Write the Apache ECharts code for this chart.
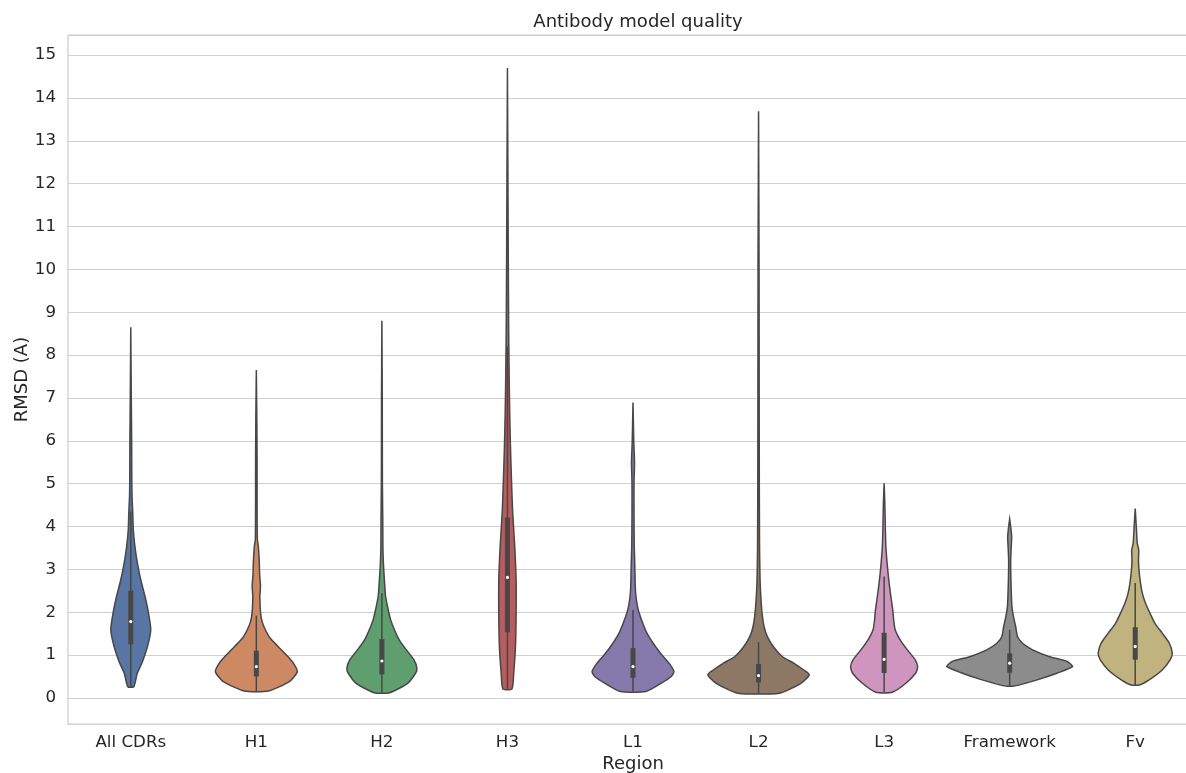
<!DOCTYPE html>
<html>
<head>
<meta charset="utf-8">
<title>Antibody model quality</title>
<script src="https://cdn.jsdelivr.net/npm/echarts@6/dist/echarts.min.js"></script>
<style>
  html, body { margin: 0; padding: 0; background: #fff; }
  #chart { width: 1186px; height: 773px; }
</style>
</head>
<body>
<div id="chart"></div>
<script>
// regions on the x axis
var regions = ['All CDRs', 'H1', 'H2', 'H3', 'L1', 'L2', 'L3', 'Framework', 'Fv'];

// violin outlines: [rmsd, half width as % of the category band]
var allCdrs = [[0.26,2.4],[0.58,5.2],[0.81,8.8],[1.2,13.3],[1.59,15.9],[1.98,14.1],[2.36,11.4],[2.75,8.0],[3.14,5.3],[3.53,3.3],[3.92,2.0],[4.3,1.6],[4.7,1.0],[5.1,0.8],[6.0,0.7],[7.0,0.4],[8.65,0]];
var h1 = [[0.16,9.6],[0.38,26.3],[0.61,32.6],[0.81,29.5],[1.0,23.9],[1.2,17.3],[1.39,11.1],[1.59,7.2],[1.78,4.6],[1.98,3.4],[2.36,2.8],[2.6,3.3],[2.9,2.6],[3.14,2.4],[3.53,1.6],[3.7,0.8],[4.5,0.6],[5.5,0.6],[6.5,0.4],[7.65,0]];
var h2 = [[0.12,6.2],[0.34,20.5],[0.58,26.9],[0.69,27.9],[0.89,25.5],[1.12,19.5],[1.35,13.9],[1.59,10.0],[1.82,7.0],[1.98,5.6],[2.36,3.0],[2.75,2.0],[3.14,1.2],[3.53,0.8],[4.2,0.7],[5.0,0.4],[7.0,0.3],[8.8,0]];
var h3 = [[0.21,3.6],[0.58,5.0],[1.2,6.4],[1.98,6.9],[2.75,6.9],[3.53,5.8],[4.31,4.2],[5.09,3.2],[5.86,2.4],[6.64,1.8],[7.42,1.4],[8.5,1.0],[10,0.7],[12,0.4],[14.7,0]];
var l1 = [[0.15,10.2],[0.34,22.3],[0.5,30.5],[0.61,32.6],[0.81,28.7],[1.04,21.9],[1.28,15.9],[1.51,11.1],[1.74,7.8],[1.98,4.9],[2.13,3.6],[2.36,2.4],[2.6,1.8],[3.14,1.4],[3.53,1.0],[4.3,0.8],[5.0,0.8],[5.5,1.2],[6.0,0.6],[6.89,0]];
var l2 = [[0.11,16.6],[0.34,33.8],[0.54,40.4],[0.65,36.0],[0.81,27.9],[0.96,19.1],[1.2,11.7],[1.43,7.0],[1.66,4.4],[1.98,2.8],[2.36,1.8],[2.75,1.2],[3.5,0.8],[5,0.6],[7,0.5],[10,0.4],[13.69,0]];
var l3 = [[0.13,6.6],[0.34,17.3],[0.58,25.2],[0.72,26.7],[0.89,24.7],[1.12,18.5],[1.35,12.9],[1.59,8.8],[1.82,7.6],[2.05,6.9],[2.36,5.4],[2.75,3.7],[3.14,2.4],[3.53,1.4],[3.92,1.0],[4.5,0.6],[5.01,0]];
var framework = [[0.28,4.4],[0.42,21.9],[0.58,38.2],[0.73,50.1],[0.85,45.8],[0.96,31.8],[1.12,18.3],[1.28,10.0],[1.43,6.2],[1.66,4.8],[1.9,3.0],[2.13,1.8],[2.36,1.4],[2.75,1.0],[3.2,0.8],[3.5,1.2],[3.76,1.6],[4.0,0.8],[4.17,0]];
var fv = [[0.3,3.3],[0.42,11.1],[0.65,21.5],[0.89,27.9],[1.04,29.5],[1.28,27.1],[1.51,21.5],[1.74,15.7],[1.98,11.7],[2.21,8.2],[2.44,5.7],[2.68,4.2],[2.99,3.0],[3.22,2.6],[3.45,2.8],[3.61,1.6],[3.92,1.0],[4.42,0]];
var violins = [allCdrs, h1, h2, h3, l1, l2, l3, framework, fv];

// inner box: [lower whisker, q1, median, q3, upper whisker]
var boxStats = [
  [0.26, 1.25, 1.78, 2.5, 4.35],
  [0.16, 0.5, 0.73, 1.1, 1.92],
  [0.12, 0.55, 0.86, 1.37, 2.44],
  [0.21, 1.53, 2.81, 4.21, 8.2],
  [0.15, 0.47, 0.73, 1.16, 2.05],
  [0.11, 0.36, 0.52, 0.79, 1.3],
  [0.13, 0.58, 0.9, 1.52, 2.83],
  [0.28, 0.59, 0.81, 1.04, 1.59],
  [0.3, 0.89, 1.2, 1.65, 2.68]
];

var colors = ['#5875a4', '#cc8963', '#5f9e6e', '#b55d60', '#857aab', '#8d7866', '#d095bf', '#8c8c8c', '#c1b37f'];
var lineColor = '#474747';
var textColor = '#262626';
var font = 'DejaVu Sans';

var chart = echarts.init(document.getElementById('chart'));

function renderViolin(params, api) {
  var i = params.dataIndex;
  var cx = api.coord([i, 0])[0];
  var band = api.size([1, 0])[0];
  var prof = violins[i];
  var right = [], left = [];
  prof.forEach(function (p) {
    var y = api.coord([i, p[0]])[1];
    var hw = p[1] / 100 * band;
    right.push([cx + hw, y]);
    left.unshift([cx - hw, y]);
  });
  var pts = right.concat(left);
  var s = boxStats[i];
  var yLo = api.coord([i, s[0]])[1];
  var yQ1 = api.coord([i, s[1]])[1];
  var yMed = api.coord([i, s[2]])[1];
  var yQ3 = api.coord([i, s[3]])[1];
  var yHi = api.coord([i, s[4]])[1];
  return {
    type: 'group',
    children: [
      {
        type: 'polygon',
        shape: { points: pts, smooth: 0.2 },
        style: { fill: colors[i], stroke: lineColor, lineWidth: 1.5 }
      },
      {
        type: 'line',
        shape: { x1: cx, y1: yLo, x2: cx, y2: yHi },
        style: { stroke: lineColor, lineWidth: 1.5 }
      },
      {
        type: 'rect',
        shape: { x: cx - 2.5, y: yQ3, width: 5, height: yQ1 - yQ3 },
        style: { fill: lineColor }
      },
      {
        type: 'circle',
        shape: { cx: cx, cy: yMed, r: 1.6 },
        style: { fill: '#ffffff' }
      }
    ]
  };
}

chart.setOption({
  animation: false,
  title: {
    text: 'Antibody model quality',
    left: 633,
    top: 8,
    textAlign: 'center',
    textStyle: { fontFamily: font, fontSize: 18, fontWeight: 'normal', color: textColor }
  },
  grid: {
    left: 68,
    width: 1130,
    top: 35,
    height: 689,
    outerBoundsMode: 'none',
    containLabel: false,
    show: true,
    borderColor: '#cccccc',
    borderWidth: 1.2
  },
  xAxis: {
    type: 'category',
    data: regions,
    name: 'Region',
    nameLocation: 'middle',
    nameGap: 31,
    nameMoveOverlap: false,
    nameTextStyle: { fontFamily: font, fontSize: 18, color: textColor },
    axisLine: { show: false },
    axisTick: { show: false },
    axisLabel: { fontFamily: font, fontSize: 16.7, color: textColor, margin: 10 },
    splitLine: { show: false }
  },
  yAxis: {
    type: 'value',
    min: -0.61,
    max: 15.47,
    splitNumber: 16,
    name: 'RMSD (A)',
    nameLocation: 'middle',
    nameGap: 37,
    nameMoveOverlap: false,
    nameTextStyle: { fontFamily: font, fontSize: 18, color: textColor },
    axisLine: { show: false },
    axisTick: { show: false },
    axisLabel: {
      fontFamily: font, fontSize: 16.7, color: textColor, margin: 12,
      formatter: function (v) { return Math.abs(v - Math.round(v)) < 1e-6 ? String(Math.round(v)) : ''; }
    },
    splitLine: { lineStyle: { color: '#d0d0d0', width: 1.2 } }
  },
  series: [{
    type: 'custom',
    renderItem: renderViolin,
    data: regions.map(function (r, i) { return [i, 0]; }),
    encode: { x: 0, y: 1 },
    clip: false,
    silent: true
  }]
});
</script>
</body>
</html>
